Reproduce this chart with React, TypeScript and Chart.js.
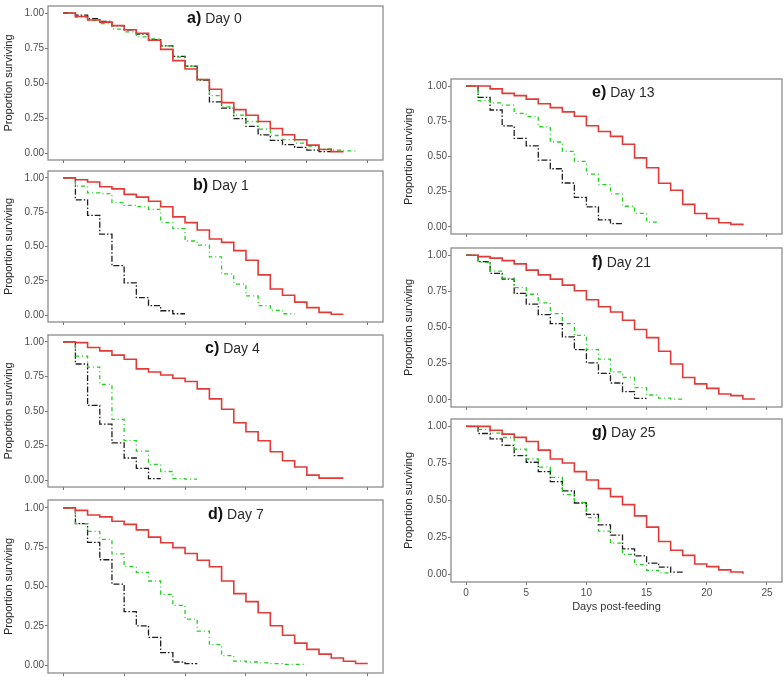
import React, { useEffect, useRef } from 'react';
import { Chart, registerables } from 'chart.js';
Chart.register(...registerables);

// ---- data (survival proportions by day post-feeding, index = day) ----
const xTicks = [0, 5, 10, 15, 20, 25];
const yTicks = [0, 0.25, 0.5, 0.75, 1];
const panelLetters = ['a)', 'b)', 'c)', 'd)', 'e)', 'f)', 'g)'];
const panelDays = ['Day 0', 'Day 1', 'Day 4', 'Day 7', 'Day 13', 'Day 21', 'Day 25'];
const yAxisLabel = 'Proportion surviving';
const xAxisLabel = 'Days post-feeding';

const aRed = [1, 0.975, 0.95, 0.935, 0.91, 0.88, 0.855, 0.805, 0.74, 0.66, 0.6, 0.525, 0.455, 0.36, 0.31, 0.27, 0.225, 0.175, 0.13, 0.095, 0.056, 0.025, 0.01, 0.01];
const aGreen = [1, 0.97, 0.945, 0.925, 0.885, 0.865, 0.83, 0.815, 0.765, 0.685, 0.62, 0.525, 0.41, 0.33, 0.27, 0.225, 0.17, 0.125, 0.095, 0.07, 0.05, 0.03, 0.02, 0.015, 0.015];
const aBlack = [1, 0.985, 0.96, 0.94, 0.91, 0.88, 0.85, 0.81, 0.765, 0.69, 0.62, 0.52, 0.365, 0.32, 0.245, 0.19, 0.13, 0.09, 0.06, 0.04, 0.02, 0.01, 0.01];

const bRed = [1, 0.986, 0.97, 0.935, 0.92, 0.88, 0.86, 0.83, 0.79, 0.716, 0.674, 0.62, 0.555, 0.53, 0.47, 0.4, 0.293, 0.19, 0.145, 0.095, 0.055, 0.02, 0.007, 0.007];
const bGreen = [1, 0.94, 0.89, 0.885, 0.82, 0.8, 0.79, 0.77, 0.674, 0.63, 0.54, 0.51, 0.425, 0.3, 0.226, 0.14, 0.07, 0.035, 0.01, 0.01];
const bBlack = [1, 0.84, 0.727, 0.59, 0.36, 0.235, 0.127, 0.07, 0.032, 0.01, 0.01];

const cRed = [1, 0.995, 0.96, 0.935, 0.904, 0.874, 0.805, 0.782, 0.76, 0.737, 0.714, 0.66, 0.588, 0.513, 0.415, 0.35, 0.285, 0.205, 0.14, 0.095, 0.036, 0.014, 0.014, 0.014];
const cGreen = [1, 0.897, 0.817, 0.693, 0.44, 0.286, 0.21, 0.114, 0.062, 0.011, 0.007, 0.007];
const cBlack = [1, 0.84, 0.54, 0.405, 0.27, 0.16, 0.085, 0.011, 0.011];

const dRed = [1, 0.984, 0.955, 0.943, 0.915, 0.895, 0.86, 0.814, 0.778, 0.747, 0.71, 0.667, 0.626, 0.535, 0.455, 0.404, 0.333, 0.25, 0.19, 0.14, 0.1, 0.07, 0.045, 0.025, 0.01, 0.01];
const dGreen = [1, 0.9, 0.85, 0.8, 0.707, 0.626, 0.59, 0.535, 0.45, 0.38, 0.293, 0.216, 0.13, 0.06, 0.026, 0.02, 0.015, 0.01, 0.005, 0.005, 0.005];
const dBlack = [1, 0.9, 0.78, 0.67, 0.515, 0.34, 0.25, 0.176, 0.08, 0.02, 0.01, 0.01];

const eRed = [1, 1, 0.98, 0.948, 0.932, 0.907, 0.874, 0.847, 0.817, 0.786, 0.718, 0.677, 0.643, 0.587, 0.49, 0.42, 0.31, 0.26, 0.16, 0.095, 0.06, 0.03, 0.018, 0.01];
const eGreen = [1, 0.896, 0.88, 0.865, 0.806, 0.783, 0.711, 0.603, 0.536, 0.465, 0.375, 0.3, 0.235, 0.147, 0.097, 0.034, 0.034];
const eBlack = [1, 0.92, 0.83, 0.718, 0.628, 0.576, 0.474, 0.413, 0.312, 0.21, 0.142, 0.05, 0.023, 0.023];

const fRed = [1, 0.99, 0.98, 0.963, 0.94, 0.897, 0.864, 0.835, 0.793, 0.754, 0.692, 0.644, 0.607, 0.55, 0.486, 0.43, 0.336, 0.248, 0.154, 0.11, 0.079, 0.04, 0.029, 0.005, 0.005];
const fGreen = [1, 0.95, 0.89, 0.842, 0.776, 0.73, 0.67, 0.596, 0.527, 0.446, 0.347, 0.281, 0.193, 0.154, 0.084, 0.033, 0.011, 0.005, 0.005];
const fBlack = [1, 0.956, 0.875, 0.835, 0.736, 0.662, 0.589, 0.527, 0.435, 0.347, 0.255, 0.182, 0.116, 0.057, 0.01, 0.01];

const gRed = [1, 1, 0.974, 0.948, 0.926, 0.898, 0.84, 0.78, 0.753, 0.695, 0.638, 0.58, 0.526, 0.472, 0.396, 0.32, 0.223, 0.164, 0.13, 0.071, 0.054, 0.032, 0.017, 0.006];
const gGreen = [1, 0.98, 0.955, 0.925, 0.846, 0.78, 0.725, 0.656, 0.54, 0.487, 0.385, 0.294, 0.212, 0.136, 0.067, 0.028, 0.011, 0.011];
const gBlack = [1, 0.952, 0.916, 0.872, 0.803, 0.758, 0.695, 0.628, 0.565, 0.483, 0.407, 0.335, 0.266, 0.173, 0.126, 0.078, 0.05, 0.017, 0.017];

const panelSeries = [
  [aRed, aGreen, aBlack],
  [bRed, bGreen, bBlack],
  [cRed, cGreen, cBlack],
  [dRed, dGreen, dBlack],
  [eRed, eGreen, eBlack],
  [fRed, fGreen, fBlack],
  [gRed, gGreen, gBlack],
];

// ---- layout / style ----
type Layout = { L: number; T: number; W: number; yW: number; boxH: number; xH: number; tx: number; ty: number; xLabels: boolean };
const layouts: Layout[] = [
  { L: 0, T: -1, W: 384, yW: 48, boxH: 162, xH: 5, tx: 139, ty: 13, xLabels: false },
  { L: 0, T: 164, W: 384, yW: 48, boxH: 159, xH: 5, tx: 145, ty: 15, xLabels: false },
  { L: 0, T: 328, W: 384, yW: 48, boxH: 160, xH: 5, tx: 157, ty: 14, xLabels: false },
  { L: 0, T: 493, W: 384, yW: 48, boxH: 181, xH: 5, tx: 160, ty: 15, xLabels: false },
  { L: 400, T: 72, W: 383, yW: 51, boxH: 163, xH: 5, tx: 141, ty: 14, xLabels: false },
  { L: 400, T: 241, W: 383, yW: 51, boxH: 167, xH: 5, tx: 141, ty: 15, xLabels: false },
  { L: 400, T: 412, W: 383, yW: 51, boxH: 169, xH: 32, tx: 141, ty: 14, xLabels: true },
];

const FONT = "'Liberation Sans', Arial, sans-serif";
const NARROW = "'Liberation Sans Narrow', 'Arial Narrow', 'Liberation Sans', Arial, sans-serif";
const seriesStyle = [
  { color: '#e23a36', width: 1.6, dash: [] as number[] },
  { color: '#22d022', width: 1.3, dash: [1, 3, 4, 3] },
  { color: '#1e1e1e', width: 1.3, dash: [6, 2, 1.5, 2] },
];

function Panel({ idx }: { idx: number }) {
  const ref = useRef<HTMLCanvasElement | null>(null);
  const lay = layouts[idx];
  const H = 1 + lay.boxH + lay.xH;
  useEffect(() => {
    if (!ref.current) return;
    const boxPlugin = {
      id: 'box',
      beforeDatasetsDraw(chart: any) {
        const { ctx, chartArea: a } = chart;
        ctx.save();
        ctx.strokeStyle = '#8c8c8c';
        ctx.lineWidth = 1.3;
        ctx.strokeRect(a.left, a.top, a.right - a.left, a.bottom - a.top);
        ctx.restore();
      },
    };
    const titlePlugin = {
      id: 'paneltitle',
      afterDraw(chart: any) {
        const { ctx, chartArea: a } = chart;
        ctx.save();
        ctx.textBaseline = 'middle';
        ctx.textAlign = 'left';
        const x = a.left + lay.tx;
        const y = a.top + lay.ty;
        ctx.fillStyle = '#111';
        ctx.font = `bold 16px ${FONT}`;
        ctx.fillText(panelLetters[idx], x, y);
        const w = ctx.measureText(panelLetters[idx]).width;
        ctx.fillStyle = '#2a2a2a';
        ctx.font = `14px ${FONT}`;
        ctx.fillText(panelDays[idx], x + w + 4, y + 0.5);
        ctx.restore();
      },
    };
    const datasets = panelSeries[idx].map((arr, i) => ({
      data: arr.map((y, x) => ({ x, y })),
      borderColor: seriesStyle[i].color,
      borderWidth: seriesStyle[i].width,
      borderDash: seriesStyle[i].dash,
      stepped: true as const,
      pointRadius: 0,
      fill: false,
    }));
    const chart = new Chart(ref.current, {
      type: 'line',
      data: { datasets },
      plugins: [boxPlugin, titlePlugin],
      options: {
        animation: false,
        responsive: false,
        devicePixelRatio: 1,
        layout: { padding: { top: 1, right: 1, bottom: 0, left: 0 } },
        plugins: { legend: { display: false }, tooltip: { enabled: false }, title: { display: false } },
        scales: {
          x: {
            type: 'linear',
            min: -1.25,
            max: 26.25,
            afterBuildTicks: (s: any) => { s.ticks = xTicks.map((v) => ({ value: v })); },
            afterFit: (s: any) => { s.height = lay.xH; },
            grid: { drawOnChartArea: false, drawTicks: true, tickLength: 3, color: '#777' },
            border: { display: false },
            ticks: { display: lay.xLabels, padding: 2, font: { family: FONT, size: 10 }, color: '#4d4d4d', maxRotation: 0 },
            title: { display: lay.xLabels, text: xAxisLabel, font: { family: FONT, size: 11 }, color: '#333', padding: { top: 0, bottom: 0 } },
          },
          y: {
            type: 'linear',
            min: -0.05,
            max: 1.05,
            afterBuildTicks: (s: any) => { s.ticks = yTicks.map((v) => ({ value: v })); },
            afterFit: (s: any) => { s.width = lay.yW; },
            grid: { drawOnChartArea: false, drawTicks: true, tickLength: 3, color: '#777' },
            border: { display: false },
            ticks: { padding: 1, font: { family: FONT, size: 10 }, color: '#4d4d4d', callback: (v: any) => Number(v).toFixed(2) },
            title: { display: true, text: yAxisLabel, font: { family: NARROW, size: 11 }, color: '#222', padding: { top: 2, bottom: 0 } },
          },
        },
      } as any,
    });
    return () => chart.destroy();
  }, [idx]);
  return (
    <canvas
      ref={ref}
      width={lay.W}
      height={H}
      style={{ position: 'absolute', left: lay.L, top: lay.T, width: lay.W, height: H }}
    />
  );
}

export default function App() {
  return (
    <div style={{ position: 'absolute', left: 0, top: 0, width: 784, height: 677, overflow: 'hidden', background: '#fff' }}>
      {layouts.map((_, i) => (
        <Panel key={i} idx={i} />
      ))}
    </div>
  );
}
